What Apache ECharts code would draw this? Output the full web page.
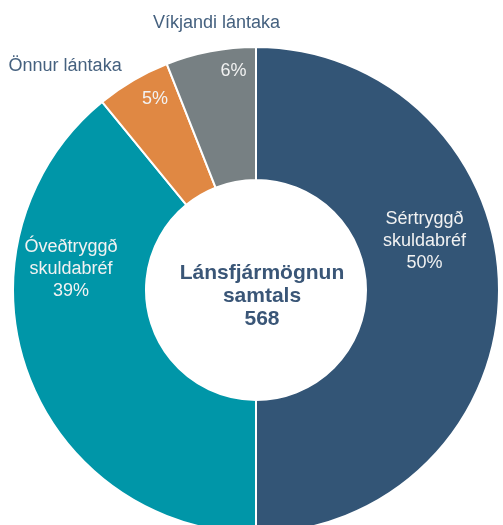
<!DOCTYPE html>
<html>
<head>
<meta charset="utf-8">
<script src="https://cdn.jsdelivr.net/npm/echarts@6/dist/echarts.min.js"></script>
<style>
  html, body { margin: 0; padding: 0; background: #fff; }
  #chart { width: 503px; height: 525px; }
</style>
</head>
<body>
<div id="chart"></div>
<script>
// slice names and values (total 568)
const names = ['Sértryggð\nskuldabréf', 'Óveðtryggð\nskuldabréf', 'Önnur lántaka', 'Víkjandi lántaka']
const values = [284, 222, 28, 34]
const colors = ['#335576', '#0096A8', '#E08843', '#778083']
const totalLabel = 'Lánsfjármögnun\nsamtals\n568'

// label nudges from default inside spot
const pctShift = [[-11, -49], [-16, -81], [-10, -36], [11, -43]]
const nameShift = [null, null, [-100, -69], [-6, -91]]

const myChart = echarts.init(document.getElementById('chart'))
const total = values.reduce((a, b) => a + b, 0)
const pct = v => Math.round(v / total * 100) + '%'

const base = {
  type: 'pie',
  center: [256, 290],
  radius: [110, 243],
  startAngle: 90,
  clockwise: true,
  animation: false,
  labelLine: { show: false }
}

const option = {
  backgroundColor: '#fff',
  title: {
    text: totalLabel,
    left: 257,
    top: 257,
    textAlign: 'center',
    textStyle: {
      fontFamily: 'Liberation Sans',
      fontSize: 21,
      fontWeight: 'bold',
      lineHeight: 23,
      color: '#3A5677'
    }
  },
  series: [
    {
      ...base,
      itemStyle: { borderColor: '#fff', borderWidth: 2 },
      label: {
        position: 'inside',
        fontFamily: 'Liberation Sans',
        fontSize: 18,
        lineHeight: 22,
        color: '#F2F2F2',
        formatter: p => (p.dataIndex < 2 ? p.name + '\n' : '') + pct(p.value)
      },
      labelLayout: p => ({ dx: pctShift[p.dataIndex][0], dy: pctShift[p.dataIndex][1] }),
      data: values.map((v, i) => ({ name: names[i], value: v, itemStyle: { color: colors[i] } }))
    },
    {
      ...base,
      silent: true,
      itemStyle: { color: 'rgba(0,0,0,0)' },
      label: {
        position: 'inside',
        fontFamily: 'Liberation Sans',
        fontSize: 18,
        color: '#45617F',
        formatter: p => (nameShift[p.dataIndex] ? p.name : '')
      },
      labelLayout: p => {
        const s = nameShift[p.dataIndex] || [0, 0]
        return { dx: s[0], dy: s[1] }
      },
      data: values.map((v, i) => ({ name: names[i], value: v }))
    }
  ]
}
myChart.setOption(option)
</script>
</body>
</html>
